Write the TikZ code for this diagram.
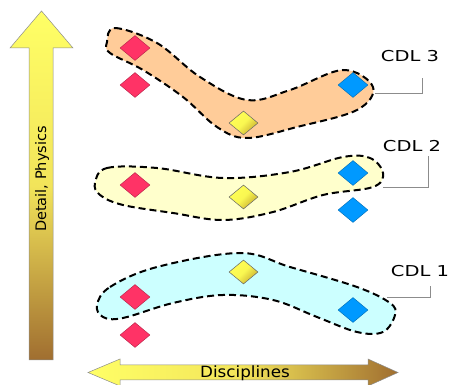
\documentclass[tikz,border=0pt]{standalone}
\usepackage{fontspec}
\setmainfont{DejaVu Sans}
\usetikzlibrary{shapes.geometric}
\definecolor{arrY}{HTML}{FFFF66}
\definecolor{arrM}{HTML}{F2E45A}
\definecolor{arrB}{HTML}{A06E30}
\definecolor{redD}{HTML}{FF3366}
\definecolor{blueD}{HTML}{0099FF}
\definecolor{yelD}{HTML}{FFFF55}
\definecolor{yelD2}{HTML}{C8AE30}
\definecolor{peach}{HTML}{FFCC99}
\definecolor{cream}{HTML}{FFFFCC}
\definecolor{cyanL}{HTML}{CCFFFF}
\begin{document}
\begin{tikzpicture}[x=1pt,y=-1pt,
  dia/.style={diamond,inner sep=0pt,minimum width=30pt,minimum height=25pt,draw=#1!70!black,line width=0.4pt,fill=#1},
  ydia/.style={diamond,inner sep=0pt,minimum width=29pt,minimum height=24pt,draw=black!60,line width=0.5pt,left color=yelD,right color=yelD2,middle color=yelD!90!yelD2,shading angle=45},
  blob/.style={draw=black,dash pattern=on 7pt off 4pt,line width=2pt},
  lab/.style={font=\fontsize{15}{18}\selectfont,inner sep=0pt},
  leader/.style={draw=black!45,line width=0.8pt},
  arr/.style={draw=black!45,line width=0.5pt}]
\useasboundingbox (0,0) rectangle (451,385);
% vertical arrow
\path[arr,top color=arrY,bottom color=arrB,middle color=arrM]
  (29,360) -- (29,48) -- (10,48) -- (41.5,11) -- (73,48) -- (53,48) -- (53,360) -- cycle;
\node[font=\fontsize{14.5}{17}\selectfont,rotate=90,inner sep=0pt] (vl) at (42,179) {Detail, Physics};
% horizontal arrow
\path[arr,left color=arrY,right color=arrB,middle color=arrM]
  (88,372.5) -- (120,359) -- (120,365) -- (368,365) -- (368,359) -- (398,372.5) -- (368,386) -- (368,380) -- (120,380) -- (120,386) -- cycle;
\node[font=\fontsize{15.5}{18}\selectfont,inner sep=0pt] (hl) at (245,373) {\scalebox{1.08}[1]{Disciplines}};
% blobs
\path[blob,fill=peach] plot[smooth cycle,tension=0.6] coordinates {
 (107,42) (115,28) (157,43) (200,77) (247,100) (290,90) (343,70) (373,87)
 (357,110) (297,127) (247,138) (217,127) (183,97) (143,70) (110,53)};
\path[blob,fill=cream] plot[smooth cycle,tension=0.6] coordinates {
 (95,183) (107,168) (157,168) (223,178) (290,172) (343,157) (370,158) (383,173)
 (373,187) (323,195) (273,212) (223,220) (173,213) (123,205) (100,195)};
\path[blob,fill=cyanL] plot[smooth cycle,tension=0.6] coordinates {
 (97,305) (110,287) (157,267) (240,253) (290,267) (357,287) (390,303) (395,315)
 (383,332) (357,332) (317,317) (273,300) (223,295) (173,303) (123,318) (103,317)};
% diamonds CDL3
\node[dia=redD] (r3a) at (135,48) {};
\node[dia=redD] (r3b) at (135,85) {};
\node[ydia] (y3) at (243.5,123) {};
\node[dia=blueD] (b3) at (353,85) {};
% CDL2
\node[dia=redD] (r2) at (135,185) {};
\node[ydia] (y2) at (243.5,197) {};
\node[dia=blueD] (b2a) at (353,173) {};
\node[dia=blueD] (b2b) at (353,210) {};
% CDL1
\node[ydia] (y1) at (243.5,272) {};
\node[dia=redD] (r1a) at (135,297) {};
\node[dia=blueD] (b1) at (353,310) {};
\node[dia=redD] (r1b) at (135,335) {};
% labels
\node[lab] (l3) at (410,56) {\scalebox{1.3}[1]{CDL 3}};
\node[lab] (l2) at (412,146) {\scalebox{1.3}[1]{CDL 2}};
\node[lab] (l1) at (420,271) {\scalebox{1.3}[1]{CDL 1}};
\coordinate (p3) at (375,93); \coordinate (q3) at (422,78);
\coordinate (p2) at (383,187); \coordinate (q2) at (428,156);
\coordinate (p1) at (387,297); \coordinate (q1) at (430,286);
\draw[leader] (p3) -| (q3);
\draw[leader] (p2) -| (q2);
\draw[leader] (p1) -| (q1);
\end{tikzpicture}
\end{document}
